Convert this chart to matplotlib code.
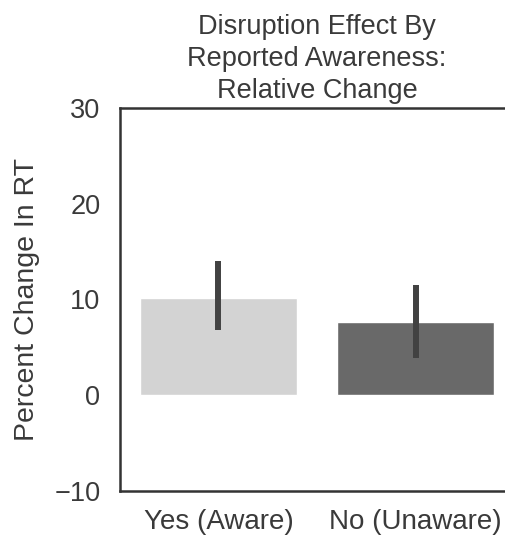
import numpy as np
import matplotlib.pyplot as plt
import seaborn as sns

sns.set_style('white')
plt.rcParams['font.family'] = ['Liberation Sans', 'DejaVu Sans']

# relative change in RT, grouped by reported awareness
groups = ['Yes (Aware)', 'No (Unaware)']
mean_change = [10.1, 7.6]
ci_low = [6.8, 3.9]
ci_high = [14.0, 11.5]
bar_colors = ['#d3d3d3', '#696969']

fig = plt.figure(figsize=(5.06, 5.39), dpi=100)
ax = fig.add_axes([0.237, 0.089, 0.779, 0.711])

x = np.arange(len(groups))
ax.bar(x, mean_change, width=0.8, color=bar_colors)

mean_arr = np.array(mean_change)
yerr = [mean_arr - np.array(ci_low), np.array(ci_high) - mean_arr]
ax.errorbar(x, mean_arr, yerr=yerr, fmt='none', ecolor='#424242',
            elinewidth=4.3, capsize=0)

ax.set_xlim(-0.5, 1.5)
ax.set_ylim(-10, 30)
ax.set_yticks([-10, 0, 10, 20, 30])
ax.set_yticklabels(['\u221210', '0', '10', '20', '30'])
ax.set_xticks(x)
ax.set_xticklabels(groups)

ax.tick_params(axis='y', labelsize=19.5, pad=14, length=0, labelcolor='#3a3a3a')
ax.tick_params(axis='x', labelsize=20, pad=13, length=0, labelcolor='#3a3a3a')
ax.set_ylabel('Percent Change In RT', fontsize=20.5, color='#3a3a3a', labelpad=10)
ax.set_title('Disruption Effect By\nReported Awareness:\nRelative Change',
             fontsize=19.5, color='#3a3a3a', pad=7, linespacing=1.3)

for side in ['left', 'top', 'bottom', 'right']:
    ax.spines[side].set_linewidth(1.8)
    ax.spines[side].set_color('#333333')

plt.savefig('out.png', dpi=100)
